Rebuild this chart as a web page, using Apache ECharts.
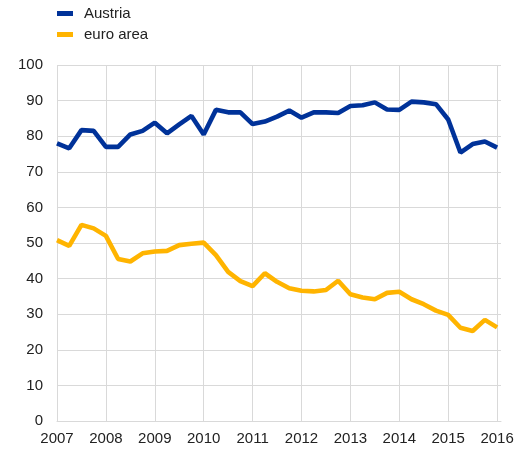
<!DOCTYPE html>
<html>
<head>
<meta charset="utf-8">
<script src="https://cdn.jsdelivr.net/npm/echarts@6/dist/echarts.min.js"></script>
<style>html,body{margin:0;padding:0;background:#fff}#c{width:529px;height:455px}</style>
</head>
<body>
<div id="c"></div>
<script>
var quarters = [];
for (var i = 0; i <= 36; i++) quarters.push(2007 + i * 0.25);
var austria = [78.0, 76.6, 81.7, 81.5, 77.0, 77.0, 80.5, 81.5, 83.8, 80.8, 83.3, 85.7, 80.5,
  87.4, 86.7, 86.7, 83.4, 84.1, 85.5, 87.2, 85.2, 86.7, 86.7, 86.5, 88.5, 88.7, 89.5, 87.5,
  87.4, 89.7, 89.5, 89.0, 84.7, 75.4, 77.8, 78.5, 76.8];
var euroArea = [50.8, 49.2, 55.1, 54.1, 52.0, 45.5, 44.8, 47.1, 47.6, 47.8, 49.4, 49.8, 50.1,
  46.6, 41.9, 39.3, 37.9, 41.5, 39.1, 37.3, 36.6, 36.4, 36.8, 39.4, 35.6, 34.7, 34.2, 36.0,
  36.3, 34.2, 32.8, 31.0, 29.8, 26.2, 25.3, 28.4, 26.3];
var seriesNames = ['Austria', 'euro area'];

function pairs(v) { return v.map(function (y, i) { return [quarters[i], y]; }); }

var chart = echarts.init(document.getElementById('c'));
chart.setOption({
  animation: false,
  textStyle: { fontFamily: 'Liberation Sans, Arial, sans-serif' },
  legend: {
    orient: 'vertical', left: 52, top: 1, itemGap: 6,
    itemWidth: 16, itemHeight: 5, icon: 'rect',
    textStyle: { fontSize: 15, color: '#222', padding: [0, 0, 0, 6],
      fontFamily: 'Liberation Sans, Arial, sans-serif' },
    data: seriesNames
  },
  grid: { left: 57, right: 28, top: 65, bottom: 34, containLabel: false },
  xAxis: {
    type: 'value', min: 2007, max: 2016.08, interval: 1,
    axisLine: { show: true, lineStyle: { color: '#d9d9d9', width: 1 } },
    axisTick: { show: false },
    splitLine: { show: true, showMaxLine: false, lineStyle: { color: '#d9d9d9', width: 1 } },
    axisLabel: {
      fontSize: 15, color: '#222', margin: 10,
      formatter: function (v) { return Number.isInteger(v) ? String(v) : ''; },
      showMaxLabel: false
    }
  },
  yAxis: {
    type: 'value', min: 0, max: 100, interval: 10,
    axisLine: { show: false }, axisTick: { show: false },
    splitLine: { lineStyle: { color: '#d9d9d9', width: 1 } },
    axisLabel: { fontSize: 15, color: '#222', margin: 14 }
  },
  series: [
    { name: seriesNames[0], type: 'line', data: pairs(austria), symbol: 'none',
      lineStyle: { width: 4.6, color: '#003299' }, itemStyle: { color: '#003299' } },
    { name: seriesNames[1], type: 'line', data: pairs(euroArea), symbol: 'none',
      lineStyle: { width: 4.6, color: '#FFB400' }, itemStyle: { color: '#FFB400' } }
  ]
});
</script>
</body>
</html>
